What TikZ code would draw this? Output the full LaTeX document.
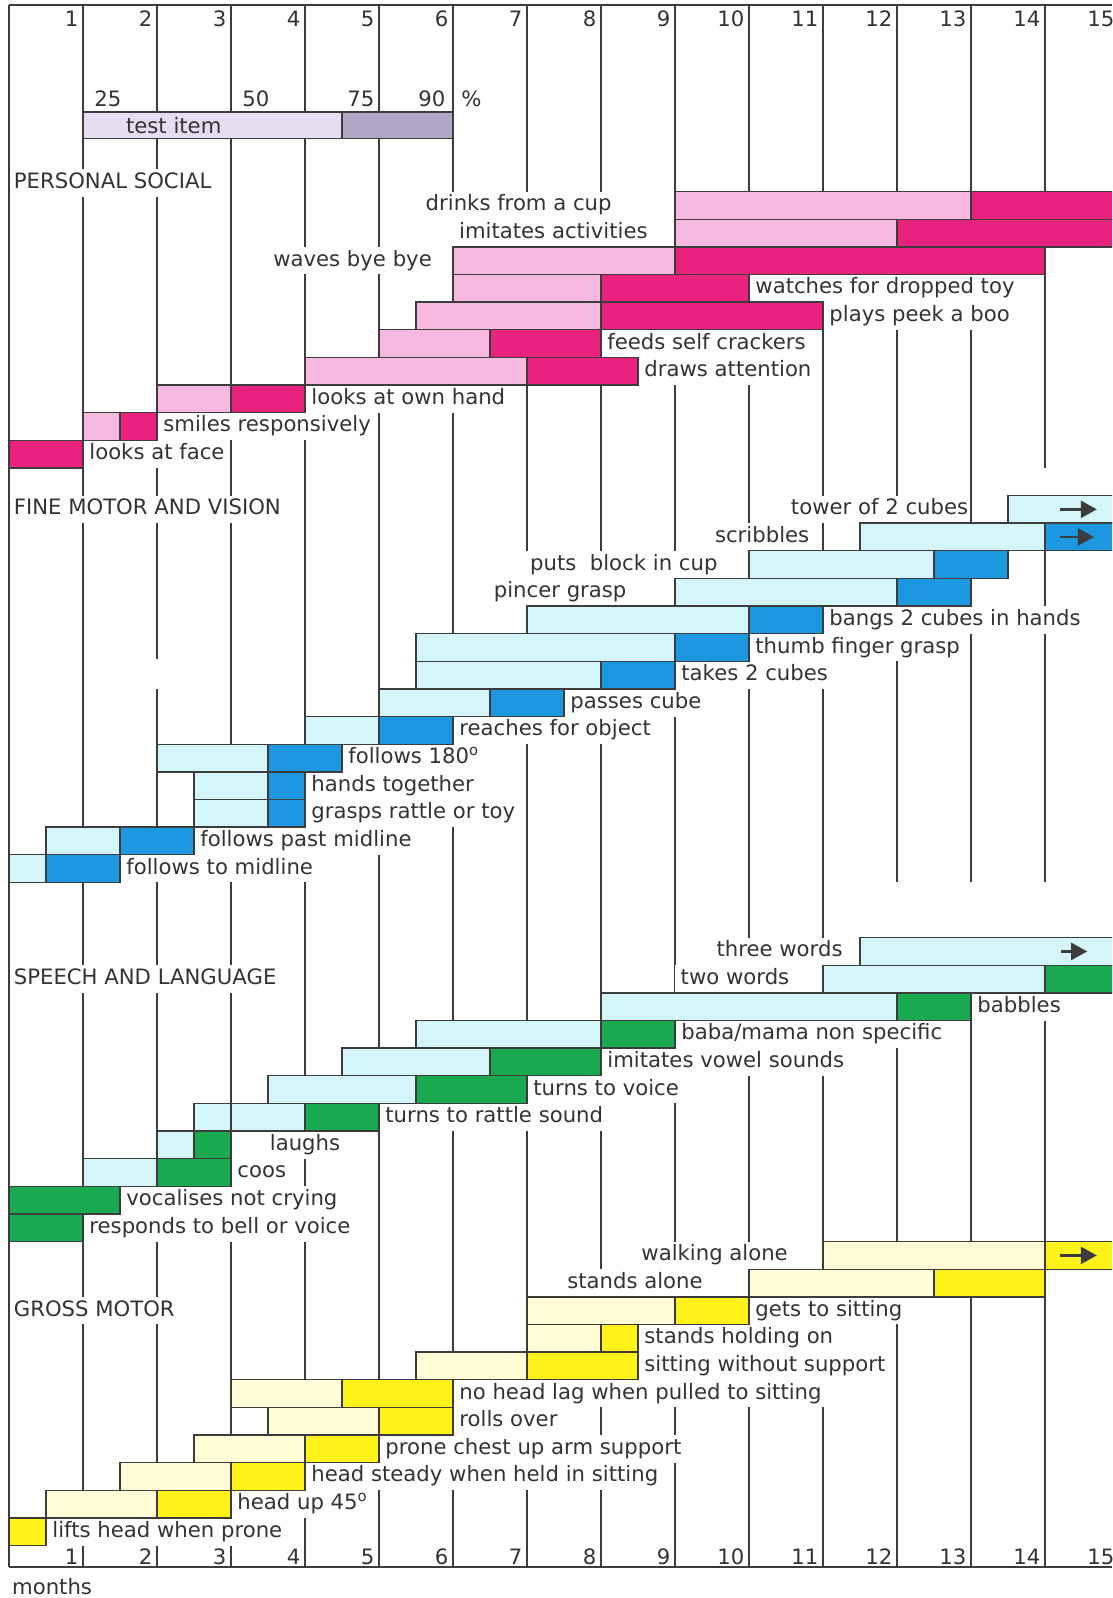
\documentclass[tikz,border=0pt]{standalone}
\usepackage{fontspec}
\setmainfont{DejaVu Sans}
\usetikzlibrary{arrows.meta}

\definecolor{linecol}{HTML}{3C3C3C}
\definecolor{txtcol}{HTML}{333333}
\definecolor{pslight}{HTML}{F7B9E0}
\definecolor{psdark}{HTML}{E9237D}
\definecolor{fmlight}{HTML}{D4F5F9}
\definecolor{fmdark}{HTML}{1B98E0}
\definecolor{sldark}{HTML}{19AA50}
\definecolor{gmlight}{HTML}{FFFCD6}
\definecolor{gmdark}{HTML}{FFF219}
\definecolor{tilight}{HTML}{E6DEF0}
\definecolor{tidark}{HTML}{B0A6C4}

\pgfdeclarelayer{grid}
\pgfdeclarelayer{labels}
\pgfsetlayers{grid,labels,main}

\newcommand{\chartfont}{\fontsize{10.6}{12}\selectfont}
\newcommand{\setcols}[2]{\def\colL{#1}\def\colD{#2}}
% bars of one row: row, light from, dark from, to
\newcommand{\bars}[4]{%
  \draw[barline,fill=\colL] (#2,#1) rectangle (#3,#1+1);
  \draw[barline,fill=\colD] (#3,#1) rectangle (#4,#1+1);}
% label right of the bar: name, row, light from, dark from, to, label
\newcommand{\rtask}[6]{%
  \begin{pgfonlayer}{labels}\node[lbl,anchor=west] (#1) at (#5,#2+0.5) {#6};\end{pgfonlayer}
  \bars{#2}{#3}{#4}{#5}}
% label left of the bar: name, row, light from, dark from, to, label, label end
\newcommand{\ltask}[7]{%
  \begin{pgfonlayer}{labels}\node[lbl,anchor=east] (#1) at (#7,#2+0.5) {#6};\end{pgfonlayer}
  \bars{#2}{#3}{#4}{#5}}

\begin{document}
\begin{tikzpicture}[x=37pt,y=-13.815pt,
  monthline/.style={draw=linecol,line width=1pt},
  barline/.style={draw=linecol,line width=0.7pt},
  lbl/.style={font=\chartfont,text=txtcol,fill=white,inner xsep=3pt,inner ysep=0pt,
    minimum height=13.815pt,text height=7.9pt,text depth=2.4pt},
  heading/.style={lbl,inner xsep=1.5pt},
  num/.style={font=\chartfont,text=txtcol,inner sep=1pt},
  goon/.style={draw=linecol,line width=1.2pt,-{Triangle[length=8pt,width=8.5pt]}}]
\useasboundingbox (-0.1216,-6.934) rectangle (14.905,50.9);

% month lines
\begin{pgfonlayer}{grid}
\fill[white] (-0.1216,-6.934) rectangle (14.905,50.9);
\foreach \m in {1,3,4,...,11}
  \draw[monthline] (\m,-6.75) -- (\m,49.78);
\draw[monthline] (2,-6.75) -- (2,16.9) (2,18) -- (2,49.78);
\foreach \m in {12,13}
  \draw[monthline] (\m,-6.75) -- (\m,25) (\m,27) -- (\m,49.78);
\draw[monthline] (14,-6.75) -- (14,10) (14,11) -- (14,25) (14,27) -- (14,49.78);
\draw[monthline] (0,-6.75) -- (0,49.78);
\draw[monthline] (0,-6.75) -- (14.905,-6.75);
\draw[monthline] (0,49.78) -- (14.905,49.78);
\end{pgfonlayer}
\clip (-0.1216,-6.934) rectangle (14.905,50.9);

% key
\draw[barline,fill=tilight] (1,-2.88) rectangle (4.5,-1.93);
\draw[barline,fill=tidark] (4.5,-2.88) rectangle (6,-1.93);
\node[num,anchor=west] (key) at (1.55,-2.405) {test item};
\node[num,anchor=west] (p25) at (1.12,-3.35) {25};
\node[num,anchor=west] (p50) at (3.12,-3.35) {50};
\node[num,anchor=east] (p75) at (4.97,-3.35) {75};
\node[num,anchor=east] (p90) at (5.93,-3.35) {90};
\node[num,anchor=west] (pct) at (6.08,-3.35) {\%};

% personal social
\begin{pgfonlayer}{labels}
\node[heading,anchor=west] (ps) at (0.02,-0.3) {PERSONAL SOCIAL};
\node[lbl,anchor=east,inner xsep=5pt] (imit) at (8.77,1.5) {imitates activities};
\end{pgfonlayer}
\setcols{pslight}{psdark}
\ltask{drink}{0}{9}{13}{15.5}{drinks from a cup}{8.23}
\bars{1}{9}{12}{15.5}
\ltask{wave}{2}{6}{9}{14}{waves bye bye}{5.80}
\rtask{watch}{3}{6}{8}{10}{watches for dropped toy}
\rtask{peek}{4}{5.5}{8}{11}{plays peek a boo}
\rtask{crack}{5}{5}{6.5}{8}{feeds self crackers}
\rtask{attn}{6}{4}{7}{8.5}{draws attention}
\rtask{hand}{7}{2}{3}{4}{looks at own hand}
\rtask{smile}{8}{1}{1.5}{2}{smiles responsively}
\rtask{face}{9}{0}{0}{1}{looks at face}

% fine motor and vision
\begin{pgfonlayer}{labels}
\node[heading,anchor=west] (fm) at (0.02,11.5) {FINE MOTOR AND VISION};
\node[lbl,anchor=east,inner xsep=0.5pt] (tower) at (12.98,11.5) {tower of 2 cubes};
\end{pgfonlayer}
\setcols{fmlight}{fmdark}
\bars{11}{13.5}{15.5}{15.5}
\ltask{scrib}{12}{11.5}{14}{15.5}{scribbles}{10.9}
\ltask{cup}{13}{10}{12.5}{13.5}{puts\ \ block in cup}{9.66}
\ltask{pincer}{14}{9}{12}{13}{pincer grasp}{8.43}
\rtask{bang}{15}{7}{10}{11}{bangs 2 cubes in hands}
\rtask{thumb}{16}{5.5}{9}{10}{thumb finger grasp}
\rtask{take}{17}{5.5}{8}{9}{takes 2 cubes}
\rtask{pass}{18}{5}{6.5}{7.5}{passes cube}
\rtask{reach}{19}{4}{5}{6}{reaches for object}
\rtask{follow}{20}{2}{3.5}{4.5}{follows 180\textsuperscript{o}}
\rtask{handtog}{21}{2.5}{3.5}{4}{hands together}
\rtask{grasp}{22}{2.5}{3.5}{4}{grasps rattle or toy}
\rtask{past}{23}{0.5}{1.5}{2.5}{follows past midline}
\rtask{mid}{24}{0}{0.5}{1.5}{follows to midline}
\draw[goon] (14.2,11.5) -- (14.7,11.5);
\draw[goon] (14.2,12.5) -- (14.66,12.5);

% speech and language
\begin{pgfonlayer}{labels}
\node[heading,anchor=west] (sl) at (0.02,28.5) {SPEECH AND LANGUAGE};
\node[lbl] (laugh) at (4,34.5) {laughs};
\end{pgfonlayer}
\setcols{fmlight}{sldark}
\ltask{three}{27}{11.5}{15.5}{15.5}{three words}{11.35}
\ltask{two}{28}{11}{14}{15.5}{two words}{10.63}
\rtask{babble}{29}{8}{12}{13}{babbles}
\rtask{baba}{30}{5.5}{8}{9}{baba/mama non specific}
\rtask{vowel}{31}{4.5}{6.5}{8}{imitates vowel sounds}
\rtask{voice}{32}{3.5}{5.5}{7}{turns to voice}
\rtask{rattlesnd}{33}{2.5}{4}{5}{turns to rattle sound}
\draw[barline] (3,33) -- (3,34);
\bars{34}{2}{2.5}{3}
\rtask{coo}{35}{1}{2}{3}{coos}
\rtask{vocal}{36}{0}{0}{1.5}{vocalises not crying}
\rtask{bell}{37}{0}{0}{1}{responds to bell or voice}
\draw[goon] (14.22,27.5) -- (14.57,27.5);

% gross motor
\begin{pgfonlayer}{labels}
\node[heading,anchor=west] (gm) at (0.02,40.5) {GROSS MOTOR};
\end{pgfonlayer}
\setcols{gmlight}{gmdark}
\ltask{walk}{38}{11}{14}{15.5}{walking alone}{10.61}
\ltask{stand}{39}{10}{12.5}{14}{stands alone}{9.46}
\rtask{gets}{40}{7}{9}{10}{gets to sitting}
\rtask{hold}{41}{7}{8}{8.5}{stands holding on}
\rtask{sit}{42}{5.5}{7}{8.5}{sitting without support}
\rtask{lag}{43}{3}{4.5}{6}{no head lag when pulled to sitting}
\rtask{roll}{44}{3.5}{5}{6}{rolls over}
\rtask{prone}{45}{2.5}{4}{5}{prone chest up arm support}
\rtask{steady}{46}{1.5}{3}{4}{head steady when held in sitting}
\rtask{headup}{47}{0.5}{2}{3}{head up 45\textsuperscript{o}}
\rtask{lift}{48}{0}{0}{0.5}{lifts head when prone}
\draw[goon] (14.2,38.5) -- (14.7,38.5);

% month numbers
\foreach \m in {1,...,15}{
  \node[num,anchor=east] (top\m) at (\m-0.03,-6.25) {\m};
  \node[num,anchor=east] (bot\m) at (\m-0.03,49.4) {\m};}
\node[num,anchor=west] (months) at (0.01,50.47) {months};
\end{tikzpicture}
\end{document}
